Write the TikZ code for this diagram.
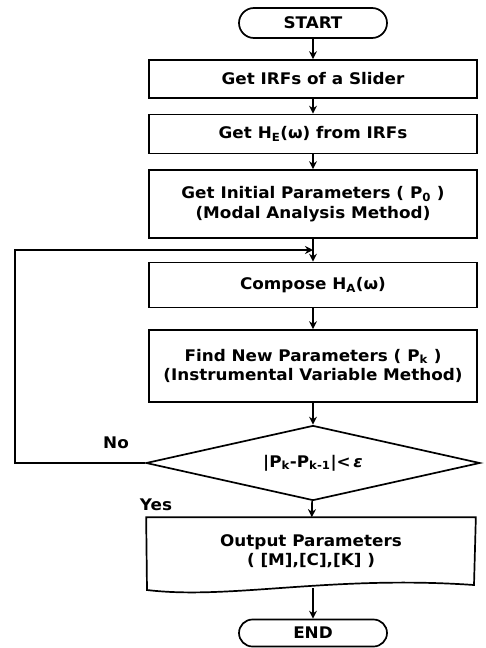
\documentclass[tikz,border=0pt]{standalone}
\usepackage{fontspec}
\setmainfont[FakeStretch=1.05]{DejaVu Sans}
\usetikzlibrary{shapes.geometric,shapes.misc,arrows.meta}
\begin{document}
\begin{tikzpicture}
        [x=1pt, y=-1pt, line width=1.7pt,
         font=\bfseries\fontsize{16}{19.5}\selectfont,
         box/.style={draw, minimum width=328pt, align=center, inner sep=0pt},
         term/.style={draw, rounded rectangle, minimum width=148pt, inner sep=0pt},
         flow/.style={-{Stealth[length=8pt, width=8pt]}}]
        \useasboundingbox (0,0) rectangle (486,648);
        \node[term, minimum height=30pt] (start) at (313,23) {START};
        \node[box, minimum height=38pt] (irf) at (313,79)
            {Get IRFs of a Slider};
        \node[box, minimum height=39pt] (he) at (313,134)
            {Get H\textsubscript{E}(ω) from IRFs};
        \node[box, minimum height=68pt] (init) at (313,204)
            {Get Initial Parameters ( P\textsubscript{0} )\\(Modal Analysis Method)};
        \coordinate (join) at (313,250);
        \node[box, minimum height=45pt] (compose) at (313,285)
            {Compose H\textsubscript{A}(ω)};
        \node[box, minimum height=72pt] (find) at (313,366)
            {Find New Parameters ( P\textsubscript{k} )\\(Instrumental Variable Method)};
        \node[draw, diamond, aspect=4.45, minimum width=334pt, minimum height=75pt,
            inner sep=0pt] (check) at (313,463) {};
        \node (checktext) at (check)
            {|P\textsubscript{k}-P\textsubscript{k-1}|<\,\textit{ε}};
        \node[minimum width=328pt, minimum height=66pt, align=center, inner sep=0pt]
            (output) at (311,551)
            {Output Parameters\\( [M],[C],[K] )};
        \draw
            (output.north west) -- (output.north east) -- (474,585)
            .. controls (330,575) and (230,600) .. (147,590) -- cycle;
        \coordinate (wave) at (313,588);
        \node[term, minimum height=27pt] (end) at (313,633) {END};
        \node (no) at (116,443) {No};
        \node (yes) at (156,505) {Yes};
        \draw[flow] (start) -- (irf);
        \draw[flow] (irf) -- (he);
        \draw[flow] (he) -- (init);
        \draw[flow] (init) -- (compose);
        \draw[flow] (compose) -- (find);
        \draw[flow] (find) -- (check);
        \draw[flow] (check) -- (output);
        \draw[flow] (wave) -- (end);
        \draw[flow] (check.west) -- (15,463) |- (join);
        \end{tikzpicture}
\end{document}
